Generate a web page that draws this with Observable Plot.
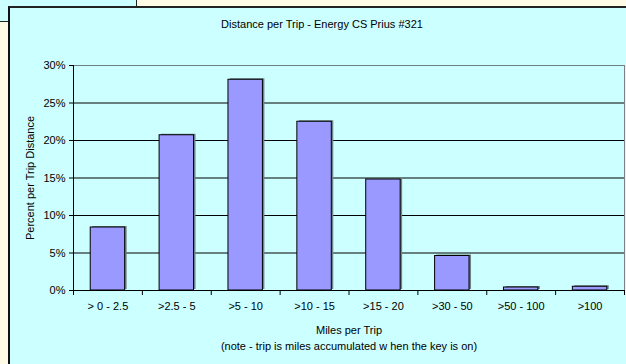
<!DOCTYPE html>
<html>
<head>
<meta charset="utf-8">
<script src="https://cdn.jsdelivr.net/npm/d3@7"></script>
<script src="https://cdn.jsdelivr.net/npm/@observablehq/plot@0.6"></script>
<style>
  html, body { margin: 0; padding: 0; background: #FFFBE6; }
  #page {
    position: relative; width: 626px; height: 364px; overflow: hidden;
    font-family: "Liberation Sans", Arial, sans-serif; font-size: 11px; color: #000;
  }
  .tab {
    position: absolute; left: 0; top: 0; width: 136px; height: 21px;
    background: #CCFFFF; border-right: 1px solid #222; border-bottom: 1px solid #222;
  }
  .sheet {
    position: absolute; left: 8px; top: 6px; right: 0; bottom: 0;
    background: #CCFFFF; border-left: 2px solid #111; border-top: 2px solid #222;
  }
  #chart { position: absolute; left: 0; top: 0; }
  #chart svg { overflow: visible; background: transparent; }
  .lbl { position: absolute; white-space: nowrap; transform: translate(-50%, -50%); line-height: 1; }
  .rot { transform: translate(-50%, -50%) rotate(-90deg); }
</style>
</head>
<body>
<div id="page">
  <div class="tab"></div>
  <div class="sheet"></div>
  <div id="chart"></div>
  <div class="lbl" style="left:322px; top:24px;">Distance per Trip - Energy CS Prius #321</div>
  <div class="lbl rot" style="left:30px; top:178px;">Percent per Trip Distance</div>
  <div class="lbl" style="left:349px; top:330px;">Miles per Trip</div>
  <div class="lbl" style="left:349px; top:346px;">(note - trip is miles accumulated w hen the key is on)</div>
</div>
<script>
// Trip distance bins and the share of total distance in each
const categories = ["> 0 - 2.5", ">2.5 - 5", ">5 - 10", ">10 - 15", ">15 - 20", ">30 - 50", ">50 - 100", ">100"];
const percents = [8.4, 20.7, 28.1, 22.5, 14.8, 4.6, 0.4, 0.5];
const yTicks = [0, 5, 10, 15, 20, 25, 30];
const gridLines = [5, 10, 15, 20, 25];

const data = categories.map((c, i) => ({ bin: c, pct: percents[i] }));

const W = 626, H = 364;
const mLeft = 73, mRight = 2, mTop = 65, mBottom = 74;
const step = (W - mLeft - mRight) / categories.length;
const last = categories[categories.length - 1];

const chart = Plot.plot({
  width: W,
  height: H,
  marginLeft: mLeft,
  marginRight: mRight,
  marginTop: mTop,
  marginBottom: mBottom,
  style: { background: "transparent", fontFamily: "Liberation Sans, Arial, sans-serif", fontSize: "11px", color: "#000" },
  x: { type: "band", domain: categories, paddingInner: 0.5, paddingOuter: 0.25, round: false },
  y: { domain: [0, 30] },
  marks: [
    // horizontal gridlines
    Plot.ruleY(gridLines, { stroke: "#000", strokeWidth: 1 }),
    // plot-area border (top and right)
    Plot.ruleY([30], { stroke: "#6f8080", strokeWidth: 1 }),
    Plot.ruleX([last], { y1: 0, y2: 30, dx: step / 2, stroke: "#808080", strokeWidth: 1 }),
    // bar shadows
    Plot.barY(data, { x: "bin", y: "pct", fill: "#6f8585", dx: 2, dy: -1 }),
    // bars
    Plot.barY(data, { x: "bin", y: "pct", fill: "#9999FF", stroke: "#000", strokeWidth: 1 }),
    // axis lines
    Plot.ruleY([0], { stroke: "#000", strokeWidth: 1 }),
    Plot.ruleX([categories[0]], { y1: 0, y2: 30, dx: -step / 2, stroke: "#000", strokeWidth: 1 }),
    // x tick marks at bin boundaries
    Plot.ruleX(categories, { y1: 0, y2: 0, insetBottom: -5, dx: -step / 2, stroke: "#000" }),
    Plot.ruleX([last], { y1: 0, y2: 0, insetBottom: -5, dx: step / 2, stroke: "#000" }),
    Plot.axisX({ tickSize: 0, tickPadding: 12, label: null, fill: "#000" }),
    Plot.axisY({ ticks: yTicks, tickSize: 4, tickPadding: 4, tickFormat: d => d + "%", label: null, stroke: "#000", fill: "#000" })
  ]
});

document.getElementById("chart").appendChild(chart);
</script>
</body>
</html>
